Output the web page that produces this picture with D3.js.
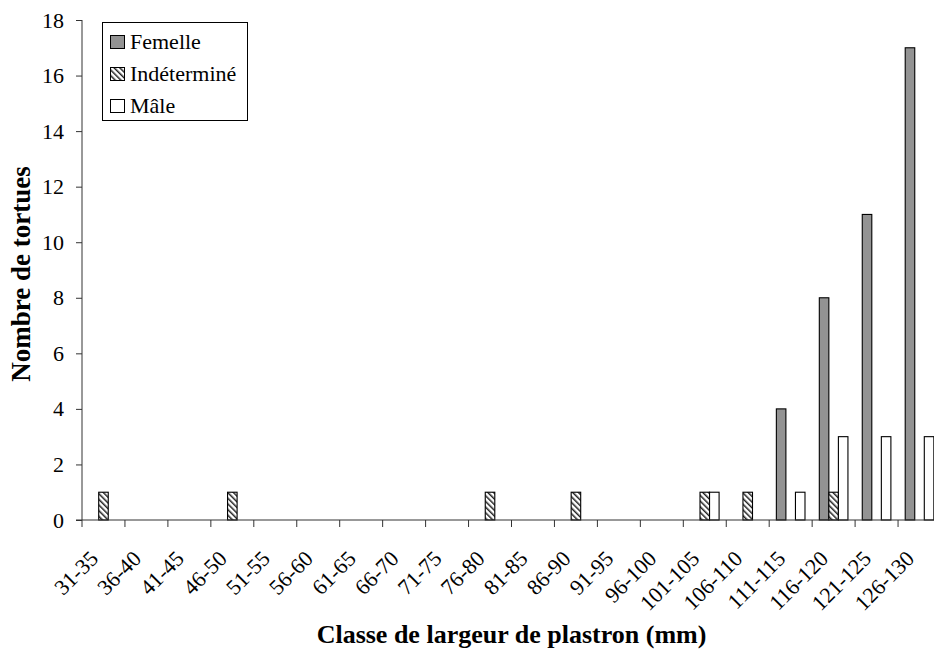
<!DOCTYPE html>
<html>
<head>
<meta charset="utf-8">
<script src="https://cdn.jsdelivr.net/npm/d3@7"></script>
<style>
  html, body { margin: 0; padding: 0; background: #fff; overflow: hidden; }
  svg { display: block; }
  svg text { font-family: "Liberation Serif", "Times New Roman", Times, "DejaVu Serif", serif; fill: #000; }
</style>
</head>
<body>
<svg id="chart" width="934" height="649"></svg>
<script>
// Size classes of plastron width (mm)
const classes = ["31-35","36-40","41-45","46-50","51-55","56-60","61-65","66-70","71-75","76-80",
                 "81-85","86-90","91-95","96-100","101-105","106-110","111-115","116-120","121-125","126-130"];
const seriesNames = ["Femelle", "Indéterminé", "Mâle"];
const femelle     = [0,0,0,0,0,0,0,0,0,0, 0,0,0,0,0,0,4,8,11,17];
const indetermine = [1,0,0,1,0,0,0,0,0,1, 0,1,0,0,1,1,0,1,0,0];
const male        = [0,0,0,0,0,0,0,0,0,0, 0,0,0,0,1,0,1,3,3,3];
const yTicks = [0,2,4,6,8,10,12,14,16,18];

const svg = d3.select("#chart");
const plotLeft = 82, plotRight = 941, plotTop = 20, plotBottom = 520;
const serif = "'Liberation Serif', 'Times New Roman', Times, 'DejaVu Serif', serif";

const x0 = d3.scaleBand().domain(classes).range([plotLeft, plotRight]).paddingInner(0).paddingOuter(0);
const x1 = d3.scaleBand().domain(seriesNames).range([0, x0.bandwidth()]).paddingInner(0).paddingOuter(0.75);
const y = d3.scaleLinear().domain([0, 18]).range([plotBottom, plotTop]);

// Hatch pattern for the undetermined series
const defs = svg.append("defs");
const pat = defs.append("pattern")
  .attr("id", "hatch").attr("patternUnits", "userSpaceOnUse")
  .attr("width", 4).attr("height", 4)
  .attr("patternTransform", "rotate(-45)");
pat.append("rect").attr("width", 4).attr("height", 4).attr("fill", "#fff");
pat.append("rect").attr("width", 1.5).attr("height", 4).attr("fill", "#222");

const fills = { "Femelle": "#939393", "Indéterminé": "url(#hatch)", "Mâle": "#ffffff" };
const values = { "Femelle": femelle, "Indéterminé": indetermine, "Mâle": male };

// Bars
const rows = [];
classes.forEach((c, i) => {
  seriesNames.forEach(s => {
    if (values[s][i] > 0) rows.push({ c, s, v: values[s][i] });
  });
});
svg.append("g").selectAll("rect").data(rows).join("rect")
  .attr("x", d => x0(d.c) + x1(d.s))
  .attr("y", d => y(d.v))
  .attr("width", x1.bandwidth())
  .attr("height", d => y(0) - y(d.v))
  .attr("fill", d => fills[d.s])
  .attr("stroke", "#000").attr("stroke-width", 1.1);

// Y axis
const yAxis = d3.axisLeft(y).tickValues(yTicks).tickSize(6).tickPadding(12).tickFormat(d3.format("d"));
const gy = svg.append("g").attr("transform", `translate(${plotLeft},0)`).call(yAxis)
  .attr("font-family", serif).attr("font-size", 22);
gy.select(".domain").attr("stroke", "#333").attr("d", `M0,${plotTop}V${plotBottom}`);
gy.selectAll(".tick line").attr("stroke", "#333");
gy.selectAll(".tick text").attr("fill", "#000");

// X axis: ticks at class boundaries
const xAxisG = svg.append("g").attr("transform", `translate(0,${plotBottom})`);
xAxisG.append("line").attr("x1", plotLeft - 6).attr("x2", plotRight).attr("y1", 0).attr("y2", 0)
  .attr("stroke", "#333");
const bounds = classes.map(c => x0(c)).concat([plotRight]);
xAxisG.selectAll("line.tk").data(bounds).join("line").attr("class", "tk")
  .attr("x1", d => d).attr("x2", d => d).attr("y1", 0).attr("y2", 7).attr("stroke", "#333");
xAxisG.selectAll("text").data(classes).join("text")
  .attr("text-anchor", "end")
  .attr("font-size", 22)
  .attr("transform", c => `translate(${x0(c) + x0.bandwidth() / 2 - 4},40) rotate(-45)`)
  .text(c => c);

// Axis titles
svg.append("text").attr("x", (plotLeft + plotRight) / 2).attr("y", 643).attr("text-anchor", "middle")
  .attr("font-size", 26).attr("font-weight", "bold").text("Classe de largeur de plastron (mm)");
svg.append("text").attr("transform", "translate(30,274) rotate(-90)").attr("text-anchor", "middle")
  .attr("font-size", 27).attr("font-weight", "bold").text("Nombre de tortues");

// Legend
const lg = svg.append("g");
lg.append("rect").attr("x", 102.5).attr("y", 22.5).attr("width", 145).attr("height", 98)
  .attr("fill", "#fff").attr("stroke", "#000");
seriesNames.forEach((s, i) => {
  const cy = 42 + i * 32;
  lg.append("rect").attr("x", 110.5).attr("y", cy - 6.5).attr("width", 14).attr("height", 13)
    .attr("fill", fills[s]).attr("stroke", "#000");
  lg.append("text").attr("x", 130).attr("y", cy + 6.5).attr("font-size", 22).text(s);
});
</script>
</body>
</html>
